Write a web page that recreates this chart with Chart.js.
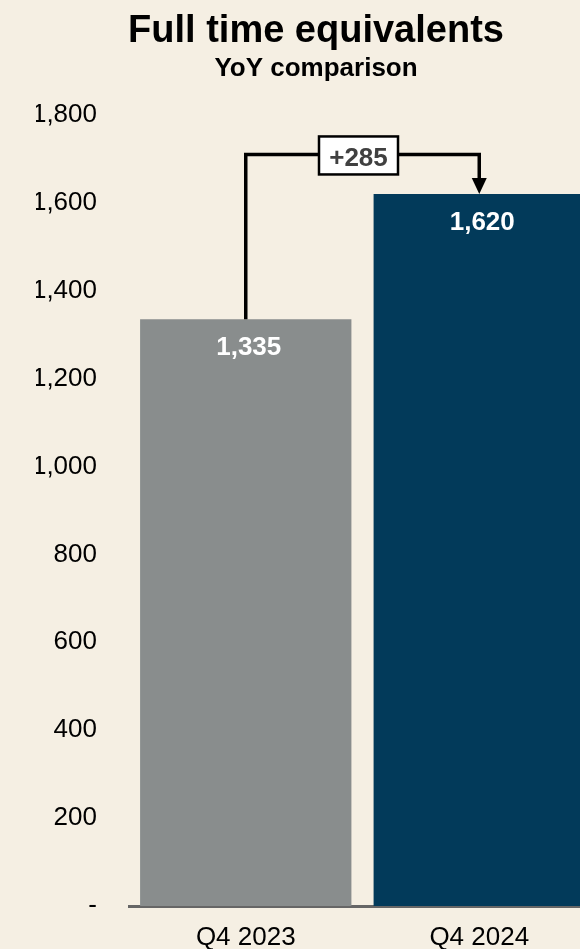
<!DOCTYPE html>
<html>
<head>
<meta charset="utf-8">
<script src="https://cdn.jsdelivr.net/npm/chart.js@4/dist/chart.umd.min.js"></script>
<style>
  html, body { margin: 0; padding: 0; background: #F5EFE3; overflow: hidden; }
  #wrap { width: 632px; height: 949px; }
  #fteChart { display: block; width: 632px; height: 949px; }
</style>
</head>
<body>
<div id="wrap"><canvas id="fteChart" width="632" height="949"></canvas></div>
<script>
// Daten
const quarters = ['Q4 2023', 'Q4 2024'];
const fteValues = [1335, 1620];
const barColors = ['#898D8D', '#023A5A'];
const yTicks = [0, 200, 400, 600, 800, 1000, 1200, 1400, 1600, 1800];
const bracketLevel = 1710; // Höhe der Verbindungslinie (Wert auf der y-Achse)

const FONT = 'Arial, "Liberation Sans", sans-serif';

// Werte in den Balken
const valueLabels = {
    id: 'valueLabels',
    afterDatasetsDraw(chart) {
        const ctx = chart.ctx;
        const meta = chart.getDatasetMeta(0);
        ctx.save();
        ctx.font = 'bold 26px ' + FONT;
        ctx.fillStyle = '#ffffff';
        ctx.textAlign = 'center';
        ctx.textBaseline = 'middle';
        meta.data.forEach((bar, i) => {
            ctx.fillText(fteValues[i].toLocaleString('en-US'), bar.x + 3, bar.y + 29);
        });
        ctx.restore();
    }
};

// Pfeil mit Differenz zwischen den Balken
const deltaBracket = {
    id: 'deltaBracket',
    afterDatasetsDraw(chart) {
        const ctx = chart.ctx;
        const meta = chart.getDatasetMeta(0);
        const a = meta.data[0], b = meta.data[1];
        const yTop = chart.scales.y.getPixelForValue(bracketLevel);
        const head = 16;

        ctx.save();
        ctx.strokeStyle = '#000';
        ctx.lineWidth = 3.5;
        ctx.lineJoin = 'miter';
        ctx.beginPath();
        ctx.moveTo(a.x, a.y);
        ctx.lineTo(a.x, yTop);
        ctx.lineTo(b.x, yTop);
        ctx.lineTo(b.x, b.y - head);
        ctx.stroke();

        ctx.fillStyle = '#000';
        ctx.beginPath();
        ctx.moveTo(b.x - 7.5, b.y - head);
        ctx.lineTo(b.x + 7.5, b.y - head);
        ctx.lineTo(b.x, b.y);
        ctx.closePath();
        ctx.fill();

        // Box mit Differenz
        const diff = fteValues[1] - fteValues[0];
        const cx = (a.x + b.x) / 2 - 4;
        const w = 79, h = 38;
        ctx.fillStyle = '#ffffff';
        ctx.fillRect(cx - w / 2, yTop - h / 2 + 1, w, h);
        ctx.lineWidth = 2.5;
        ctx.strokeRect(cx - w / 2, yTop - h / 2 + 1, w, h);
        ctx.font = 'bold 26px ' + FONT;
        ctx.fillStyle = '#404040';
        ctx.textAlign = 'center';
        ctx.textBaseline = 'middle';
        ctx.fillText('+' + diff, cx, yTop + 4);
        ctx.restore();
    }
};

const bgPlugin = {
    id: 'bg',
    beforeDraw(chart) {
        const ctx = chart.ctx;
        ctx.save();
        ctx.fillStyle = '#F5EFE3';
        ctx.fillRect(0, 0, chart.width, chart.height);
        ctx.restore();
    }
};

const ctx = document.getElementById('fteChart').getContext('2d');
new Chart(ctx, {
    type: 'bar',
    data: {
        labels: quarters,
        datasets: [{
            data: fteValues,
            backgroundColor: barColors,
            borderWidth: 0,
            barPercentage: 0.905,
            categoryPercentage: 1
        }]
    },
    options: {
        responsive: false,
        maintainAspectRatio: false,
        animation: false,
        layout: { padding: { left: 36, right: 36, top: 0, bottom: 0 } },
        plugins: {
            legend: { display: false },
            tooltip: { enabled: false },
            title: {
                display: true,
                text: 'Full time equivalents',
                color: '#000',
                font: { family: FONT, size: 38, weight: 'bold', lineHeight: 1.15 },
                padding: { top: 9.5, bottom: 0 }
            },
            subtitle: {
                display: true,
                text: 'YoY comparison',
                color: '#000',
                font: { family: FONT, size: 26, weight: 'bold', lineHeight: 1.2 },
                padding: { top: 0, bottom: 30.5 }
            }
        },
        scales: {
            x: {
                z: 1,
                grid: { display: false, drawTicks: false },
                border: { display: true, color: '#666666', width: 3 },
                ticks: {
                    color: '#000',
                    font: { family: FONT, size: 26 },
                    padding: 16
                },
                afterFit: s => { s.height = 43; }
            },
            y: {
                min: 0,
                max: 1800,
                grid: { display: false, drawTicks: false },
                border: { display: false },
                afterBuildTicks: s => { s.ticks = yTicks.map(v => ({ value: v })); },
                ticks: {
                    color: '#000',
                    font: { family: FONT, size: 26 },
                    padding: 32,
                    callback: v => v === 0 ? '-' : v.toLocaleString('en-US')
                },
                // feste Breite, keine zusätzliche Randpolsterung durch die Labels
                afterFit: s => { s.width = 93; s.paddingTop = 0; s.paddingBottom = 0; }
            }
        }
    },
    plugins: [bgPlugin, valueLabels, deltaBracket]
});
</script>
</body>
</html>
